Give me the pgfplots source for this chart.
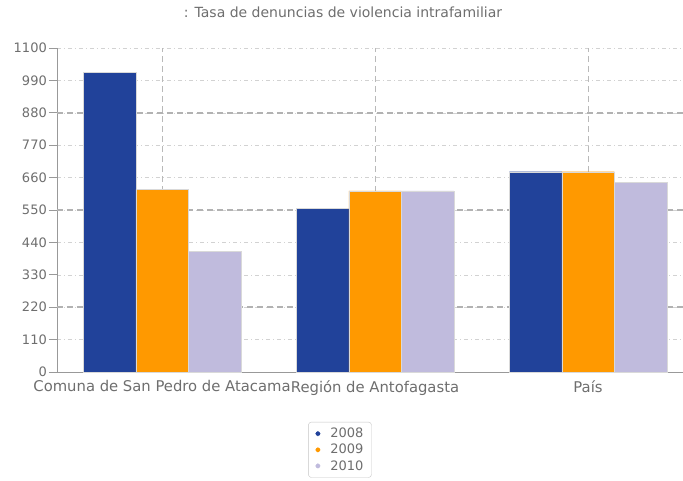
\documentclass[border=0pt]{standalone}
\usepackage{pgfplots}
\pgfplotsset{compat=1.18}
\usepackage{fontspec}
\setmainfont{DejaVu Sans}
\definecolor{cblue}{HTML}{21429A}
\definecolor{corange}{HTML}{FF9900}
\definecolor{clav}{HTML}{C0BBDD}
\definecolor{txt}{HTML}{6E6E6E}
\begin{document}
\begin{tikzpicture}
\path[use as bounding box] (-57pt,-108pt) rectangle (626pt,372pt);
\begin{axis}[
  at={(0pt,0pt)}, anchor=south west,
  scale only axis, width=626pt, height=324pt,
  ybar=0pt, bar width=52.5pt,
  xmin=-0.493, xmax=2.446, ymin=0, ymax=1100,
  /pgf/number format/assume math mode=true,
  /pgf/number format/1000 sep={},
  axis lines=left, axis line style={-, draw=gray!80, line width=0.8pt},
  xtick={0,1,2},
  xticklabels={Comuna de San Pedro de Atacama, Región de Antofagasta, País},
  x tick style={draw=none},
  ytick={0,110,...,1100},
  y tick style={draw=gray!80, line width=0.8pt},
  major tick length=8pt, tick align=outside,
  ymajorgrids=true,
  grid style={draw=gray!35, line width=0.5pt, dash pattern=on 4pt off 3pt on 1pt off 3pt},
  extra y ticks={220,550,880},
  extra y tick labels={},
  extra y tick style={grid style={draw=gray!60, line width=1.5pt, dash pattern=on 6pt off 4pt}},
  extra x ticks={0,1,2},
  extra x tick labels={},
  extra x tick style={xmajorgrids=true, grid style={draw=gray!55, line width=0.6pt, dash pattern=on 6pt off 4pt}},
  yticklabel style={font=\fontsize{13}{14}\selectfont, text=txt, inner xsep=2pt},
  xticklabel style={font=\fontsize{14.8}{16}\selectfont, text=txt, yshift=3pt, inner xsep=0pt},
  title={: Tasa de denuncias de violencia intrafamiliar},
  title style={at={(axis description cs:0.457,1.0926)}, anchor=center, font=\fontsize{14}{15}\selectfont, text=txt},
  legend style={at={(axis description cs:0.452,-0.154)}, anchor=north,
    draw=gray!45, rounded corners=3pt, font=\fontsize{13}{14}\selectfont, text=txt,
    row sep=1pt, inner xsep=6pt, inner ysep=4pt, cells={anchor=west}},
  legend cell align=left,
  legend image code/.code={\path[draw=none,fill=none] (-1pt,0pt) -- (13pt,0pt);\fill[#1,draw=none] (0pt,-2.5pt) rectangle (5pt,2.5pt);},
]
\addplot[fill=cblue, draw=gray!30, line width=0.4pt] coordinates {(0,1017) (1,555) (2,680)};
\addplot[fill=corange, draw=gray!30, line width=0.4pt] coordinates {(0,621) (1,615) (2,680)};
\addplot[fill=clav, draw=gray!30, line width=0.4pt] coordinates {(0,409) (1,615) (2,643)};
\legend{2008,2009,2010}
\end{axis}
\end{tikzpicture}
\end{document}
